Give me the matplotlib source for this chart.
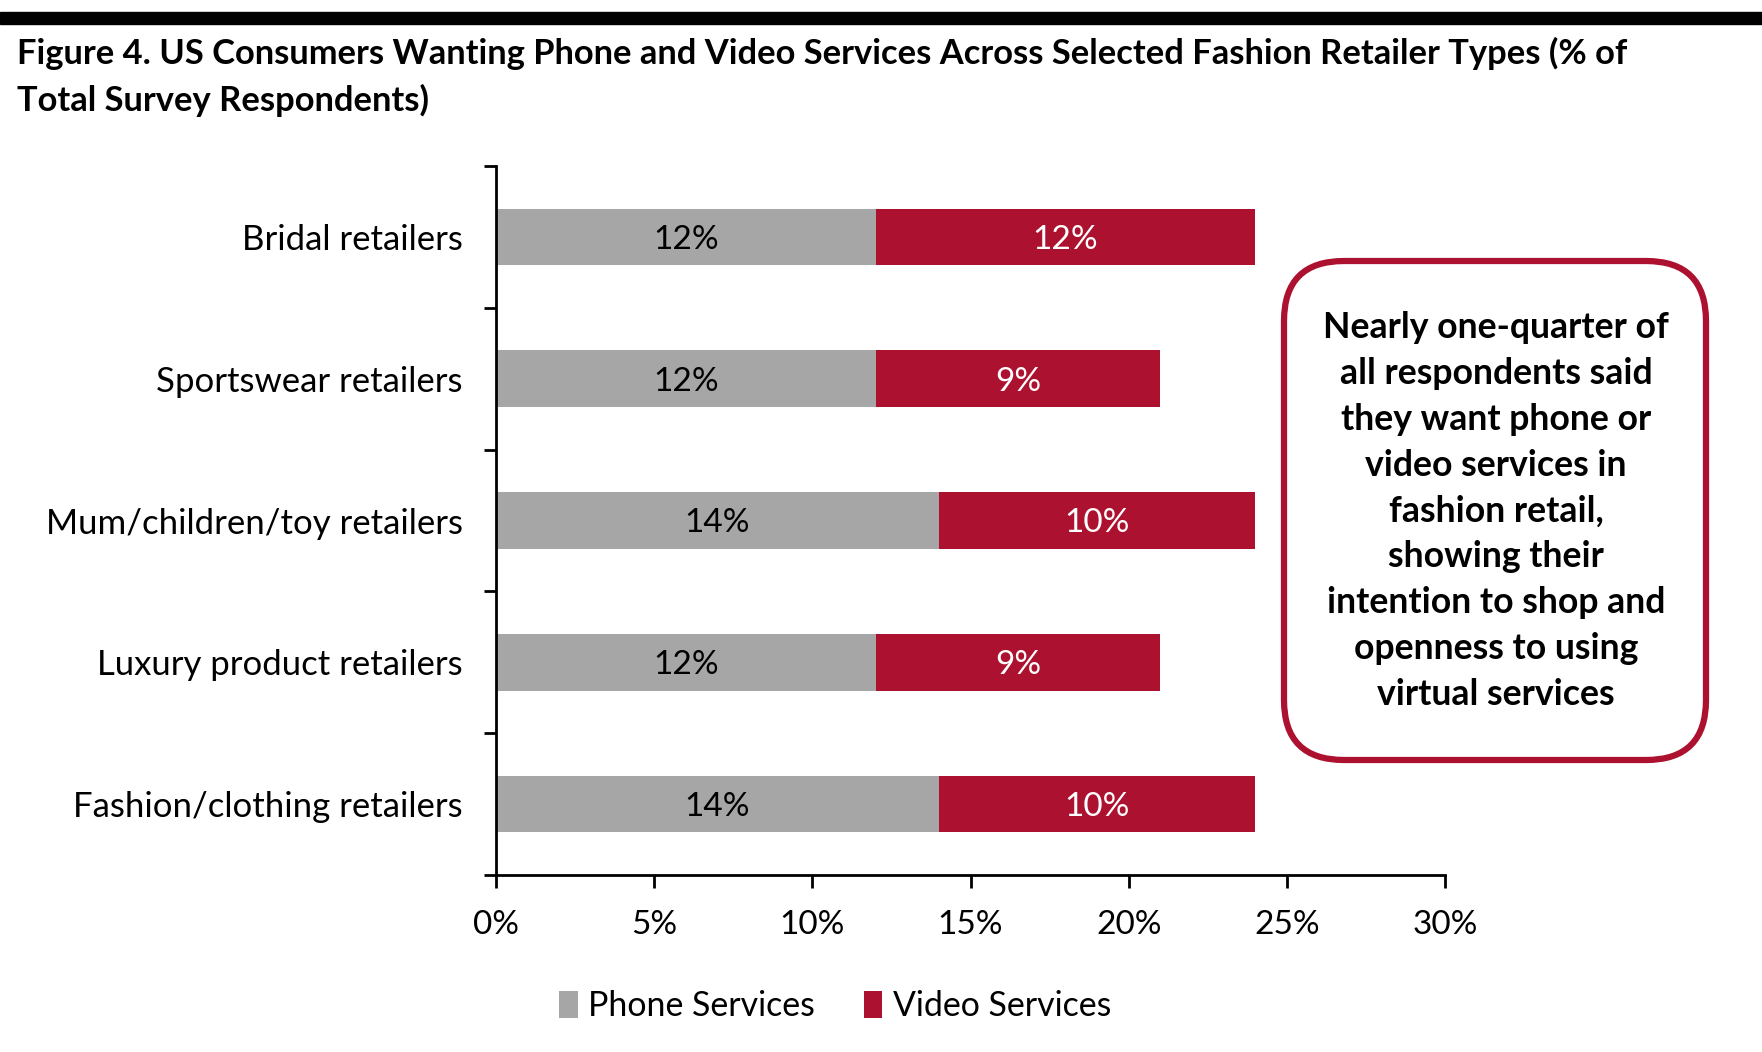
import matplotlib
matplotlib.use("Agg")
import matplotlib.pyplot as plt
from matplotlib.patches import Rectangle, FancyBboxPatch
from matplotlib.ticker import FixedLocator, PercentFormatter

plt.rcParams['font.family'] = ['Lato', 'DejaVu Sans']

# data, listed top to bottom as in the chart
categories = ["Bridal retailers", "Sportswear retailers", "Mum/children/toy retailers",
              "Luxury product retailers", "Fashion/clothing retailers"]
phone = [12, 12, 14, 12, 14]
video = [12, 9, 10, 9, 10]
series_names = ["Phone Services", "Video Services"]
x_ticks = [0, 5, 10, 15, 20, 25, 30]

title_lines = ["Figure 4. US Consumers Wanting Phone and Video Services Across Selected Fashion Retailer Types (% of",
               "Total Survey Respondents)"]
callout = ("Nearly one-quarter of\nall respondents said\nthey want phone or\nvideo services in\n"
           "fashion retail,\nshowing their\nintention to shop and\nopenness to using\nvirtual services")

GREY = "#A6A6A6"
RED = "#AD1130"
W, H = 1762, 1052

fig = plt.figure(figsize=(W / 100, H / 100), dpi=100)

# top black rule
fig.patches.append(Rectangle((0, 1 - 24 / H), 1, 12 / H, transform=fig.transFigure,
                             color="black", zorder=5))
for yy, line in zip([53, 100], title_lines):
    fig.text(17 / W, 1 - yy / H, line, ha="left", va="center", fontsize=24.8, fontweight="bold")

ax = fig.add_axes([496 / W, 1 - 875 / H, (1445 - 496) / W, (875 - 166) / H])
n = len(categories)
ypos = list(range(n - 1, -1, -1))
ax.barh(ypos, phone, height=0.4, color=GREY, label=series_names[0])
ax.barh(ypos, video, left=phone, height=0.4, color=RED, label=series_names[1])

for y, p, v in zip(ypos, phone, video):
    ax.text(p / 2, y - 0.02, f"{p}%", ha="center", va="center", fontsize=24, color="black")
    ax.text(p + v / 2, y - 0.02, f"{v}%", ha="center", va="center", fontsize=24, color="white")

ax.set_xlim(0, 30)
ax.set_ylim(-0.5, n - 0.5)
ax.xaxis.set_major_locator(FixedLocator(x_ticks))
ax.xaxis.set_major_formatter(PercentFormatter(decimals=0))
ax.set_yticks(ypos)
ax.set_yticklabels(categories)
ax.yaxis.set_minor_locator(FixedLocator([i - 0.5 for i in range(n + 1)]))
ax.tick_params(axis="y", which="major", length=0, pad=24, labelsize=25)
ax.tick_params(axis="y", which="minor", length=9, width=2, direction="out")
ax.tick_params(axis="x", which="major", length=9, width=2, direction="out", pad=16, labelsize=24)
for s in ["top", "right"]:
    ax.spines[s].set_visible(False)
for s in ["left", "bottom"]:
    ax.spines[s].set_linewidth(2)

handles, labels = ax.get_legend_handles_labels()
fig.legend(handles, labels, loc="center", bbox_to_anchor=(835 / W, 1 - 1006 / H), ncol=2,
           frameon=False, fontsize=24.4, handlelength=0.55, handleheight=0.85,
           handletextpad=0.3, columnspacing=1.45)

# callout box (inches from bottom-left)
box = FancyBboxPatch((12.84, 2.92), 17.06 - 12.84, 7.91 - 2.92,
                     boxstyle="round,pad=0,rounding_size=0.6", transform=fig.dpi_scale_trans,
                     facecolor="white", edgecolor=RED, linewidth=4.5)
fig.patches.append(box)
fig.text(1496 / W, 1 - 511 / H, callout, ha="center", va="center", fontsize=25.7,
         fontweight="bold", linespacing=1.48)

fig.savefig("out.png", dpi=100)
